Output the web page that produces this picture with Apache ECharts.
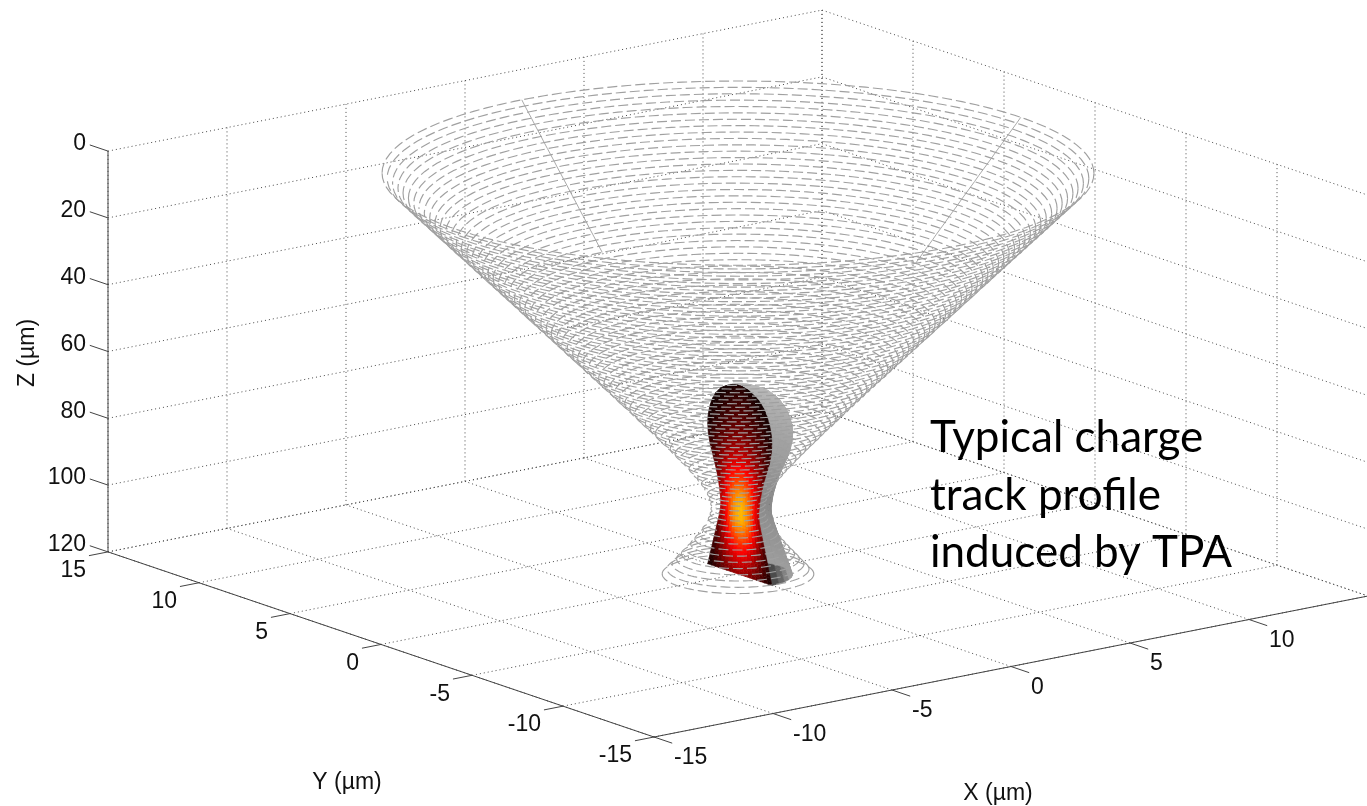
<!DOCTYPE html>
<html><head><meta charset="utf-8">
<script src="https://cdn.jsdelivr.net/npm/echarts@6/dist/echarts.min.js"></script>
<style>html,body{margin:0;padding:0;background:#fff}#c{width:1367px;height:806px}</style>
</head><body><div id="c"></div>
<script>
// ---- Data ----
const xTicks = [-15,-10,-5,0,5,10,15];
const xTickLabels = [-15,-10,-5,0,5,10];
const yTicks = [-15,-10,-5,0,5,10,15];
const zTicks = [0,20,40,60,80,100,120];
const coneZ = [0,1.5,3,4.5,6,7.5,9,10.5,12,13.5,15,16.5,18,19.5,21,22.5,24,25.5,27,28.5,30,31.5,33,34.5,36,37.5,39,40.5,42,43.5,45,46.5,48,49.5,51,52.5,54,55.5,57,58.5,60,61.5,63,64.5,66,67.5,69,70.5,72,73.5,75,76.5,78,79.5,81,82.5,84,85.5,87,88.5,90,91.5,93,94.5,96,97.5,99,100.5,102,103.5,105,106.5,108,109.5,111,112.5,114,115.5,117,118.5,120];
const coneRadius = [11.88,11.71,11.53,11.35,11.18,11.00,10.82,10.65,10.47,10.29,10.11,9.94,9.76,9.58,9.40,9.23,9.05,8.87,8.70,8.52,8.34,8.17,7.99,7.81,7.64,7.46,7.29,7.11,6.93,6.76,6.58,6.40,6.23,6.05,5.88,5.70,5.52,5.35,5.18,5.00,4.82,4.65,4.47,4.30,4.13,3.95,3.78,3.61,3.44,3.27,3.09,2.92,2.76,2.59,2.42,2.26,2.10,1.94,1.78,1.63,1.49,1.35,1.22,1.11,1.02,0.95,0.91,0.90,0.93,0.99,1.08,1.18,1.31,1.44,1.58,1.73,1.89,2.05,2.20,2.37,2.53];
const seamAngles = [0,90];
const trackZ = [63.5,64,65,66,68,70,72,74,76,78,80,82,84,86,88,90,92,94,96,98,100,102,104,106,108,110,112,114,116,118,120];
const trackRadius = [0.1,0.5,0.8,1.05,1.33,1.5,1.62,1.7,1.75,1.76,1.74,1.69,1.62,1.52,1.42,1.32,1.24,1.17,1.11,1.07,1.04,1.06,1.12,1.2,1.28,1.36,1.44,1.52,1.6,1.68,1.76];
const heatZ = [64,68,72,76,80,84,88,92,96,100,104,108,112,116,120];
const heatU = [-1,-0.75,-0.5,-0.25,0,0.25,0.5,0.75,1];
const field64  = [.02,.03,.04,.05,.05,.05,.04,.03,.02];
const field68  = [.02,.04,.06,.08,.09,.08,.06,.04,.02];
const field72  = [.03,.05,.08,.11,.12,.11,.08,.05,.03];
const field76  = [.03,.07,.11,.14,.16,.14,.11,.07,.03];
const field80  = [.05,.10,.15,.19,.21,.19,.15,.10,.05];
const field84  = [.07,.14,.21,.26,.28,.26,.21,.14,.07];
const field88  = [.10,.20,.29,.35,.37,.35,.29,.20,.10];
const field92  = [.16,.27,.38,.45,.48,.45,.38,.27,.16];
const field96  = [.22,.33,.47,.56,.60,.56,.47,.33,.22];
const field100 = [.26,.38,.52,.62,.66,.62,.52,.38,.26];
const field104 = [.20,.33,.50,.61,.65,.61,.50,.33,.20];
const field108 = [.12,.25,.40,.50,.54,.50,.40,.25,.12];
const field112 = [.08,.18,.30,.38,.42,.38,.30,.18,.08];
const field116 = [.05,.13,.22,.29,.32,.29,.22,.13,.05];
const field120 = [.03,.08,.15,.20,.23,.20,.15,.08,.03];
const chargeField = [field64,field68,field72,field76,field80,field84,field88,field92,field96,field100,field104,field108,field112,field116,field120];
const annotationLines = ['Typical charge','track profile','induced by TPA'];

// ---- Orthographic view of the 3D box, in page pixels ----
const VIEW = {ox:654, oy:737, xx:23.8, xy:-4.7, yx:-18.2, yy:-6.17, zy:3.34};
function P(x,y,z){
  return [VIEW.ox + (x+15)*VIEW.xx + (y+15)*VIEW.yx,
          VIEW.oy + (x+15)*VIEW.xy + (y+15)*VIEW.yy + (z-120)*VIEW.zy];
}
const D2R = Math.PI/180, SPLIT = -37.4, SEG = 60;

function linesSeries(name, polylines, lineStyle, z){
  return {type:'lines', name, coordinateSystem:'cartesian2d', polyline:true, silent:true, animation:false,
    z, lineStyle:Object.assign({curveness:0,opacity:1},lineStyle), data:polylines.map(p=>({coords:p})), effect:{show:false}};
}
// grid
const gridLines = [];
xTicks.forEach(x=>{gridLines.push([P(x,-15,120),P(x,15,120)]); gridLines.push([P(x,15,120),P(x,15,0)]);});
yTicks.forEach(y=>{gridLines.push([P(-15,y,120),P(15,y,120)]); gridLines.push([P(15,y,120),P(15,y,0)]);});
zTicks.forEach(z=>{gridLines.push([P(-15,15,z),P(15,15,z)]); gridLines.push([P(15,15,z),P(15,-15,z)]);});
// axes + ticks
const axisLines = [[P(-15,15,0),P(-15,15,120)],[P(-15,15,120),P(-15,-15,120)],[P(-15,-15,120),P(15,-15,120)]];
yTicks.forEach(y=>axisLines.push([P(-15,y,120),P(-15.8,y,120)]));
xTicks.forEach(x=>axisLines.push([P(x,-15,120),P(x,-16,120)]));
zTicks.forEach(z=>axisLines.push([P(-15,15,z),P(-15,16,z)]));
// cone rings
function arc(z,r,a0,a1){const o=[];for(let i=0;i<=SEG;i++){const a=(a0+(a1-a0)*i/SEG)*D2R;o.push(P(r*Math.cos(a),r*Math.sin(a),z));}return o;}
const backRings = coneZ.map((z,i)=>arc(z,coneRadius[i],SPLIT,SPLIT+180));
const frontRings = coneZ.map((z,i)=>arc(z,coneRadius[i],SPLIT,SPLIT-180));
const seams = seamAngles.map(a=>coneZ.slice(0,26).map((z,i)=>P(coneRadius[i]*Math.cos(a*D2R),coneRadius[i]*Math.sin(a*D2R),z)));

// hot colormap
function hot(v){
  v=Math.max(0,Math.min(1,v));
  const r=Math.min(1,v/0.375), g=Math.max(0,Math.min(1,(v-0.375)/0.375)), b=Math.max(0,(v-0.75)/0.25);
  return 'rgb('+Math.round(r*255)+','+Math.round(g*255)+','+Math.round(b*255)+')';
}
function heatAt(z,u){
  let fz=(Math.min(Math.max(z,heatZ[0]),heatZ[heatZ.length-1])-heatZ[0])/(heatZ[1]-heatZ[0]);
  let i=Math.min(Math.floor(fz),heatZ.length-2); fz-=i;
  let fu=(u-heatU[0])/(heatU[1]-heatU[0]);
  let j=Math.min(Math.max(Math.floor(fu),0),heatU.length-2); fu-=j;
  const a=chargeField[i][j]*(1-fu)+chargeField[i][j+1]*fu, b=chargeField[i+1][j]*(1-fu)+chargeField[i+1][j+1]*fu;
  return a*(1-fz)+b*fz;
}
const Y0=-0.1;
function trackSeries(kind,z){
  const rows=trackZ.slice(0,-1).map((zv,i)=>[P(0,0,zv)[0],P(0,0,zv)[1],i]);
  return {type:'custom',name:kind,coordinateSystem:'cartesian2d',silent:true,animation:false,z,clip:false,
    encode:{x:0,y:1},data:rows,
    renderItem:function(params,api){
      const i=api.value(2), z0=trackZ[i], z1=trackZ[i+1], r0=trackRadius[i], r1=trackRadius[i+1];
      const kids=[];
      if(kind==='body'){
        const N=18;
        for(let k=0;k<N;k++){
          const t0=(90-180*k/N), t1=(90-180*(k+1)/N);
          const pt=(r,zz,t)=>api.coord(P(r*Math.cos(t*D2R),Y0+r*Math.sin(t*D2R),zz));
          const tm=(t0+t1)/2, zm=(z0+z1)/2;
          const zf=zm<100?1.15-(zm-64)*0.0085:0.85+(zm-100)*0.006;
          const g=Math.round(255*(0.26+0.38*Math.min(1,(tm+90)/35))*zf);
          const c='rgb('+g+','+g+','+g+')';
          kids.push({type:'polygon',shape:{points:[pt(r0,z0,t0),pt(r0,z0,t1),pt(r1,z1,t1),pt(r1,z1,t0)]},
            style:{fill:c,stroke:c,lineWidth:0.8}});
        }
      } else {
        const NU=16, NZ=2;
        for(let a=0;a<NZ;a++) for(let b=0;b<NU;b++){
          const zA=z0+(z1-z0)*a/NZ, zB=z0+(z1-z0)*(a+1)/NZ;
          const rA=r0+(r1-r0)*a/NZ, rB=r0+(r1-r0)*(a+1)/NZ;
          const u0=-1+2*b/NU, u1=-1+2*(b+1)/NU;
          const pt=(r,zz,u)=>api.coord(P(0,Y0+u*r,zz));
          const c=hot(heatAt((zA+zB)/2,(u0+u1)/2));
          kids.push({type:'polygon',shape:{points:[pt(rA,zA,u0),pt(rA,zA,u1),pt(rB,zB,u1),pt(rB,zB,u0)]},
            style:{fill:c,stroke:c,lineWidth:0.6}});
        }
      }
      return {type:'group',children:kids};
    }};
}
function textSeries(name,items,z){
  return {type:'custom',name,coordinateSystem:'cartesian2d',silent:true,animation:false,z,clip:false,
    encode:{x:0,y:1},data:items.map(t=>[t.x,t.y]),
    renderItem:function(params,api){
      const t=items[params.dataIndex], c=api.coord([api.value(0),api.value(1)]);
      return {type:'text',x:c[0],y:c[1],rotation:t.rot||0,
        style:{text:t.text,fill:t.fill||'#111',font:t.font,textAlign:t.align,textVerticalAlign:t.va||'middle',verticalAlign:t.va||'middle'}};
    }};
}
const TICKFONT='23px "Liberation Sans", Arial, sans-serif';
const labels=[];
yTicks.forEach(y=>{const p=P(-15,y,120);labels.push({x:p[0]-22,y:p[1]+19,text:String(y),font:TICKFONT,align:'right'});});
xTickLabels.forEach(x=>{const p=P(x,-15,120);labels.push({x:p[0]+20,y:p[1]+21,text:String(x),font:TICKFONT,align:'left'});});
zTicks.forEach(z=>{const p=P(-15,15,z);labels.push({x:p[0]-22,y:p[1]-7,text:String(z),font:TICKFONT,align:'right'});});
labels.push({x:347,y:783,text:'Y (µm)',font:TICKFONT,align:'center'});
labels.push({x:998,y:794,text:'X (µm)',font:TICKFONT,align:'center'});
labels.push({x:28,y:353,text:'Z (µm)',font:TICKFONT,align:'center',rot:Math.PI/2});
const NOTEFONT='44px Lato, "Open Sans", sans-serif';
const notes=annotationLines.map((s,i)=>({x:930,y:[460,518,575][i],text:s,font:NOTEFONT,align:'left',va:'bottom',fill:'#000'}));

const chart=echarts.init(document.getElementById('c'),null,{renderer:'canvas'});
chart.setOption({
  animation:false,backgroundColor:'#fff',
  grid:{left:0,right:0,top:0,bottom:0,containLabel:false},
  xAxis:{type:'value',min:0,max:1367,show:false},
  yAxis:{type:'value',min:0,max:806,inverse:true,show:false},
  series:[
    linesSeries('grid',gridLines,{color:'#4a4a4a',width:1,type:[1,3]},1),
    linesSeries('axes',axisLines,{color:'#444',width:1,type:'solid'},2),
    linesSeries('seams',seams,{color:'#aaa',width:1,type:'solid'},3),
    linesSeries('cone back',backRings,{color:'#a0a0a0',width:1.15,type:[10,4]},4),
    trackSeries('body',5),
    trackSeries('face',6),
    linesSeries('cone front',frontRings,{color:'#a0a0a0',width:1.15,type:[10,4]},7),
    textSeries('labels',labels,8),
    textSeries('annotation',notes,9)
  ]
});
</script></body></html>
